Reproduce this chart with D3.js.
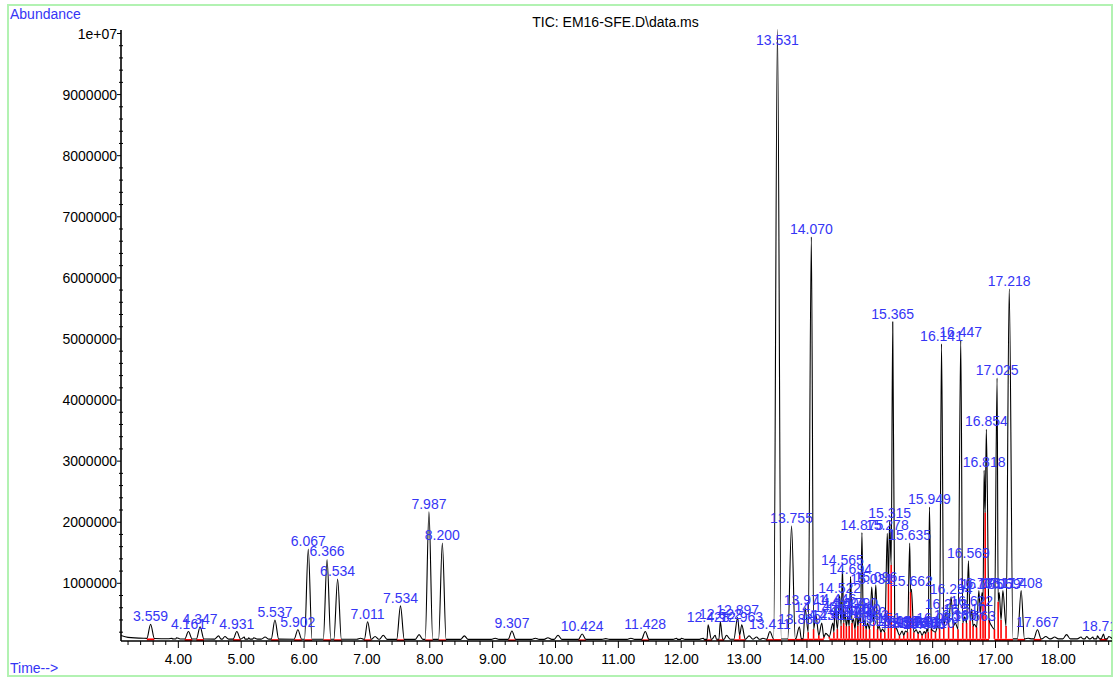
<!DOCTYPE html>
<html>
<head>
<meta charset="utf-8">
<script src="https://cdn.jsdelivr.net/npm/d3@7"></script>
<style>
  body { margin: 0; background: #fff; }
  svg { display: block; font-family: Arial, "Liberation Sans", sans-serif; }
</style>
</head>
<body>
<svg id="chart" width="1115" height="679"></svg>
<script>
// ---- TIC data (retention time in minutes, abundance in counts) ----
// Integrated peaks: [retention time, apex abundance, trough level to the next peak (0 = back to baseline)]
const earlyPeaks = [
  [3.559, 330000, 0], [4.161, 210000, 0], [4.347, 290000, 0], [4.931, 210000, 0],
  [5.537, 400000, 0], [5.902, 240000, 0], [6.067, 1560000, 0], [6.366, 1390000, 0],
  [6.534, 1070000, 0], [7.011, 370000, 0], [7.534, 630000, 0], [7.987, 2170000, 0],
  [8.200, 1660000, 0], [9.307, 220000, 0], [10.424, 170000, 0], [11.428, 210000, 0],
  [12.428, 320000, 0], [12.622, 370000, 0], [12.897, 440000, 150000], [12.963, 320000, 0],
  [13.411, 210000, 0], [13.531, 10070000, 0], [13.755, 1940000, 0], [13.880, 290000, 0]
];
const clusterPeaks = [
  [13.971, 600000, 200000], [14.070, 6670000, 250000], [14.142, 480000, 150000],
  [14.236, 350000, 120000], [14.412, 350000, 200000], [14.446, 620000, 250000],
  [14.522, 800000, 300000], [14.565, 1250000, 350000], [14.604, 550000, 300000],
  [14.650, 450000, 300000], [14.694, 1110000, 350000], [14.740, 420000, 250000],
  [14.790, 550000, 300000], [14.830, 450000, 350000], [14.875, 1830000, 300000],
  [14.920, 400000, 250000], [14.963, 350000, 250000], [15.031, 940000, 350000],
  [15.096, 970000, 250000], [15.151, 300000, 200000], [15.200, 250000, 200000],
  [15.278, 1820000, 1000000], [15.315, 2020000, 1300000], [15.365, 5280000, 300000],
  [15.430, 250000, 150000], [15.515, 220000, 150000], [15.566, 220000, 200000],
  [15.635, 1660000, 860000], [15.662, 900000, 200000], [15.739, 240000, 180000],
  [15.798, 220000, 150000], [15.866, 210000, 180000], [15.910, 250000, 200000],
  [15.949, 2250000, 250000], [16.010, 220000, 200000], [16.080, 300000, 250000],
  [16.141, 4920000, 300000], [16.213, 530000, 350000], [16.294, 780000, 300000],
  [16.360, 350000, 250000], [16.447, 4980000, 350000], [16.510, 450000, 350000],
  [16.569, 1370000, 400000], [16.622, 580000, 300000], [16.663, 330000, 280000],
  [16.735, 880000, 500000], [16.785, 850000, 700000], [16.818, 2850000, 2160000],
  [16.854, 3520000, 400000]
];
const latePeaks = [
  [17.025, 4360000, 700000], [17.059, 850000, 400000], [17.117, 880000, 300000],
  [17.218, 5820000, 0], [17.408, 880000, 0], [17.667, 240000, 0], [18.718, 170000, 0]
];
// Small unlabelled signals: [retention time, abundance, trough level to the next peak]
const minorPeaks = [
  [3.90, 100000, 0], [3.97, 110000, 0], [4.64, 140000, 0], [4.74, 130000, 0],
  [5.05, 120000, 0], [5.12, 110000, 0], [5.20, 110000, 0], [5.38, 120000, 0],
  [6.90, 100000, 0], [7.13, 130000, 0], [7.26, 150000, 0], [7.83, 160000, 0],
  [8.55, 140000, 0], [9.04, 100000, 0], [9.68, 100000, 0], [9.88, 110000, 0],
  [10.04, 150000, 0], [10.80, 95000, 0], [11.20, 100000, 0], [11.93, 100000, 0],
  [12.00, 100000, 0], [12.35, 100000, 0], [12.54, 150000, 0], [12.72, 150000, 0],
  [13.08, 140000, 0], [13.20, 120000, 0], [13.30, 100000, 0], [14.30, 180000, 130000],
  [16.940, 300000, 250000], [17.52, 100000, 0], [17.80, 130000, 0], [17.94, 120000, 0],
  [18.13, 160000, 0], [18.36, 120000, 0], [18.45, 130000, 0], [18.55, 120000, 0],
  [18.62, 140000, 0], [18.80, 130000, 0]
];
// Detector baseline
const baseTimes  = [3.088, 3.20, 3.45, 4.00, 8.00, 12.00, 13.30, 14.30, 17.50, 18.853];
const baseLevels = [145000, 115000, 100000, 88000, 82000, 82000, 85000, 95000, 90000, 90000];
// Axis ticks
const yMajorTicks = [1e6, 2e6, 3e6, 4e6, 5e6, 6e6, 7e6, 8e6, 9e6, 1e7];
const xMajorTicks = [4, 5, 6, 7, 8, 9, 10, 11, 12, 13, 14, 15, 16, 17, 18];
const titleText = "TIC: EM16-SFE.D\\data.ms";

// ---- layout ----
const svg = d3.select("#chart");
const W = 1115, H = 679;
const plotLeft = 121, plotRight = 1112, axisY = 641, axisTop = 30;
const x = d3.scaleLinear().domain([3.088, 18.853]).range([plotLeft, plotRight]);
const y = d3.scaleLinear().domain([0, 1e7]).range([644.4, 33.5]);
const base = d3.scaleLinear().domain(baseTimes).range(baseLevels).clamp(true);
const halfWidth = 0.06; // peak half-width at the foot, minutes
const blue = "#3535f5";

svg.append("rect").attr("width", W).attr("height", H).attr("fill", "#fff");
svg.append("rect").attr("x", 8).attr("y", 5).attr("width", 1104).attr("height", 671)
  .attr("fill", "none").attr("stroke", "#b2f2b2").attr("stroke-width", 2);

svg.append("defs").append("clipPath").attr("id", "plotClip")
  .append("rect").attr("x", plotLeft).attr("y", 0).attr("width", plotRight - plotLeft).attr("height", axisY);

// ---- peaks & trace vertices ----
const labelled = [...earlyPeaks, ...clusterPeaks, ...latePeaks].map(d => ({ t: d[0], h: d[1], v: d[2], lab: true }));
const minor = minorPeaks.map(d => ({ t: d[0], h: d[1], v: d[2], lab: false }));
const peaks = [...labelled, ...minor].sort((a, b) => a.t - b.t);

const verts = [];
const valleys = [];
peaks.forEach((p, i) => {
  const prev = peaks[i - 1], next = peaks[i + 1];
  if (prev && prev.v > 0) {
    p.left = (prev.t + p.t) / 2;
  } else {
    p.left = p.t - halfWidth;
    verts.push([p.left, base(p.left)]);
  }
  verts.push([p.t, p.h]);
  if (next && p.v > 0) {
    p.right = (p.t + next.t) / 2;
    verts.push([p.right, p.v]);
    valleys.push({ t: p.right, v: p.v, lab: p.lab || next.lab });
  } else {
    p.right = p.t + halfWidth;
    verts.push([p.right, base(p.right)]);
  }
});
baseTimes.forEach((t, i) => {
  if (!peaks.some(p => t >= p.left && t <= p.right)) verts.push([t, baseLevels[i]]);
});
verts.sort((a, b) => a[0] - b[0]);

const plot = svg.append("g").attr("clip-path", "url(#plotClip)");

// integration baselines and drop lines
plot.append("g").selectAll("line.base").data(labelled).join("line")
  .attr("x1", d => x(d.left)).attr("x2", d => x(d.right))
  .attr("y1", d => y(base(d.t)) + 1).attr("y2", d => y(base(d.t)) + 1)
  .attr("stroke", "#ff0000").attr("stroke-width", 2);
plot.append("g").selectAll("line.drop").data(valleys.filter(d => d.lab)).join("line")
  .attr("x1", d => x(d.t)).attr("x2", d => x(d.t))
  .attr("y1", d => y(base(d.t))).attr("y2", d => y(d.v))
  .attr("stroke", "#ff0000").attr("stroke-width", 1.6);

// chromatogram
const line = d3.line().x(d => x(d[0])).y(d => y(d[1])).curve(d3.curveMonotoneX);
plot.append("path").datum(verts).attr("d", line)
  .attr("fill", "none").attr("stroke", "#000").attr("stroke-width", 1.1).attr("stroke-linejoin", "round");

// retention time labels
plot.append("g").selectAll("text").data(labelled).join("text")
  .attr("x", d => x(d.t))
  .attr("y", d => Math.max(y(d.h) - 3, 45))
  .attr("text-anchor", "middle")
  .attr("font-size", 14)
  .attr("fill", blue)
  .text(d => d.t.toFixed(3));

// ---- axes ----
const axes = svg.append("g").attr("stroke", "#000");
axes.append("line").attr("x1", plotLeft).attr("x2", plotLeft).attr("y1", axisTop).attr("y2", axisY).attr("stroke-width", 1.6);
axes.append("line").attr("x1", plotLeft).attr("x2", plotRight).attr("y1", axisY).attr("y2", axisY).attr("stroke-width", 1.6);

// y ticks
const yMinor = d3.range(2e5, 1.0001e7, 2e5).filter(v => !yMajorTicks.some(m => Math.abs(m - v) < 1));
axes.selectAll("line.ym").data(yMinor).join("line")
  .attr("x1", plotLeft - 2).attr("x2", plotLeft + 2).attr("y1", d => y(d)).attr("y2", d => y(d));
axes.selectAll("line.yM").data(yMajorTicks).join("line")
  .attr("x1", plotLeft - 4).attr("x2", plotLeft).attr("y1", d => y(d)).attr("y2", d => y(d));
svg.append("g").selectAll("text").data(yMajorTicks).join("text")
  .attr("x", plotLeft - 4).attr("y", d => y(d)).attr("dy", "0.36em")
  .attr("text-anchor", "end").attr("font-size", 14).attr("fill", "#000")
  .text(d => d === 1e7 ? "1e+07" : d3.format("d")(d));

// x ticks
const xMinor = d3.range(3.2, 18.85, 0.2).filter(v => !xMajorTicks.some(m => Math.abs(m - v) < 1e-6));
axes.selectAll("line.xm").data(xMinor).join("line")
  .attr("x1", d => x(d)).attr("x2", d => x(d)).attr("y1", axisY).attr("y2", axisY + 4);
axes.selectAll("line.xM").data(xMajorTicks).join("line")
  .attr("x1", d => x(d)).attr("x2", d => x(d)).attr("y1", axisY).attr("y2", axisY + 7);
svg.append("g").selectAll("text").data(xMajorTicks).join("text")
  .attr("x", d => x(d)).attr("y", 663.5)
  .attr("text-anchor", "middle").attr("font-size", 14).attr("fill", "#000")
  .text(d => d.toFixed(2));

// ---- titles ----
svg.append("text").attr("x", 10).attr("y", 19).attr("font-size", 14).attr("fill", blue).text("Abundance");
svg.append("text").attr("x", 10).attr("y", 673).attr("font-size", 14).attr("fill", blue).text("Time-->");
svg.append("text").attr("x", 615.5).attr("y", 27).attr("text-anchor", "middle").attr("font-size", 14).attr("fill", "#000").text(titleText);
</script>
</body>
</html>
